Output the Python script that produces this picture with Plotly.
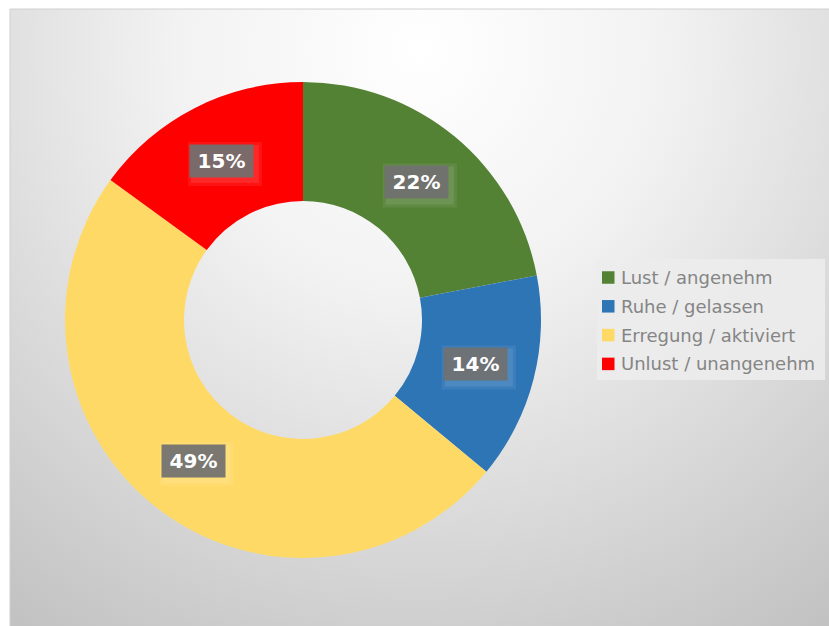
import base64
import math
import plotly.graph_objects as go

# Data
categories = ["Lust / angenehm", "Ruhe / gelassen", "Erregung / aktiviert", "Unlust / unangenehm"]
shares = [22, 14, 49, 15]
colors = ["#548235", "#2E75B6", "#FFD966", "#FF0000"]

W, H = 829, 626

# Chart area (pixel box) and donut geometry
area_x0, area_y0 = 10, 9
cx_px, cy_px, r_px = 303, 320, 238
hole = 0.5

# Legend box geometry (pixels)
leg_x0, leg_y0, leg_x1, leg_y1 = 597, 259, 825, 380
leg_first_y, leg_step = 277.5, 28.8
sw = 12.5


def px_x(x):
    return x / W


def px_y(y):
    return 1 - y / H


# Radial background gradient as an inline SVG
aw, ah = W - area_x0, H - area_y0
svg = f'''<svg xmlns="http://www.w3.org/2000/svg" width="{aw}" height="{ah}" viewBox="0 0 {aw} {ah}">
<defs><radialGradient id="g" gradientUnits="userSpaceOnUse" cx="{aw*0.5}" cy="40" r="700">
<stop offset="0" stop-color="#ffffff"/><stop offset="0.35" stop-color="#f2f2f2"/>
<stop offset="1" stop-color="#c2c2c2"/></radialGradient></defs>
<rect width="{aw}" height="{ah}" fill="url(#g)"/></svg>'''
bg_src = "data:image/svg+xml;base64," + base64.b64encode(svg.encode()).decode()

fig = go.Figure()
fig.add_trace(go.Pie(
    labels=categories,
    values=shares,
    marker=dict(colors=colors, line=dict(width=0)),
    hole=hole,
    sort=False,
    direction="clockwise",
    rotation=0,
    textinfo="none",
    hoverinfo="label+percent",
    domain=dict(x=[px_x(cx_px - r_px), px_x(cx_px + r_px)],
                y=[px_y(cy_px + r_px), px_y(cy_px - r_px)]),
    showlegend=False,
))

shapes = [dict(type="rect", xref="paper", yref="paper",
               x0=px_x(area_x0), x1=1.01, y0=-0.01, y1=px_y(area_y0),
               line=dict(color="#d0d0d0", width=1), layer="below")]
annotations = []

# Percentage labels in boxes, placed at each slice's mid-angle and mid-radius
total = sum(shares)
cum = 0
r_mid = r_px * (1 + hole) / 2
for v in shares:
    mid = (cum + v / 2) / total * 2 * math.pi
    cum += v
    x = cx_px + r_mid * math.sin(mid)
    y = cy_px - r_mid * math.cos(mid)
    # soft glow beneath the label box
    for grow, alpha in ((6, 0.07), (3, 0.09)):
        shapes.append(dict(type="rect", xref="paper", yref="paper",
                           x0=px_x(x - 31 - grow + 3), x1=px_x(x + 31 + grow + 3),
                           y0=px_y(y + 16 + grow + 3), y1=px_y(y - 16 - grow + 3),
                           fillcolor=f"rgba(255,255,255,{alpha})", line=dict(width=0),
                           layer="above"))
    annotations.append(dict(
        x=px_x(x), y=px_y(y), xref="paper", yref="paper",
        text=f"<b>{round(v / total * 100)}%</b>", showarrow=False,
        font=dict(family="DejaVu Sans", size=20, color="white"),
        bgcolor="rgba(112,112,112,0.93)", borderpad=4,
        width=55, height=24,
        xanchor="center", yanchor="middle",
    ))

# Legend drawn from the category list
shapes.append(dict(type="rect", xref="paper", yref="paper",
                   x0=px_x(leg_x0), x1=px_x(leg_x1), y0=px_y(leg_y1), y1=px_y(leg_y0),
                   fillcolor="rgba(236,236,236,0.9)", line=dict(width=0), layer="above"))
for i, (name, col) in enumerate(zip(categories, colors)):
    yc = leg_first_y + i * leg_step
    shapes.append(dict(type="rect", xref="paper", yref="paper",
                       x0=px_x(602), x1=px_x(602 + sw),
                       y0=px_y(yc + sw / 2), y1=px_y(yc - sw / 2),
                       fillcolor=col, line=dict(width=0), layer="above"))
    annotations.append(dict(
        x=px_x(619), y=px_y(yc), xref="paper", yref="paper",
        text=name, showarrow=False,
        font=dict(family="DejaVu Sans", size=18, color="#858585"),
        xanchor="left", yanchor="middle",
    ))

fig.update_layout(
    width=W, height=H,
    margin=dict(l=0, r=0, t=0, b=0),
    paper_bgcolor="white",
    plot_bgcolor="white",
    images=[dict(source=bg_src, xref="paper", yref="paper",
                 x=px_x(area_x0), y=px_y(area_y0),
                 sizex=aw / W, sizey=ah / H,
                 xanchor="left", yanchor="top", sizing="stretch", layer="below")],
    shapes=shapes,
    annotations=annotations,
    font=dict(family="DejaVu Sans"),
)

fig.write_html("out.html")
